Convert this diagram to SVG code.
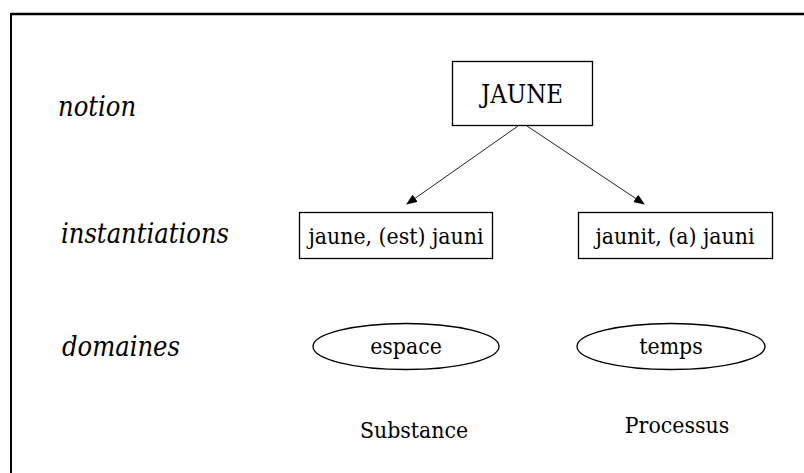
<svg xmlns="http://www.w3.org/2000/svg" width="804" height="473" viewBox="0 0 804 473">
<style>
text{font-family:'DejaVu Serif Condensed','DejaVu Serif',serif;font-stretch:condensed;fill:#000}
.lab{font-size:27px;font-style:italic}
.t{font-size:22.8px;text-anchor:middle}
.big{font-size:25.5px}
.box{fill:#fff;stroke:#000;stroke-width:1.3}
.conn{stroke:#222;stroke-width:1;fill:none}
</style>
<defs>
<marker id="ah" markerWidth="11" markerHeight="9" refX="10" refY="4.5" orient="auto" markerUnits="userSpaceOnUse">
<path d="M0,0 L11,4.5 L0,9 Z" fill="#000"/>
</marker>
</defs>
<rect width="804" height="473" fill="#fff"/>
<g id="frame">
<line x1="11" y1="14" x2="804" y2="14" stroke="#000" stroke-width="2.5"/>
<line x1="11" y1="13" x2="11" y2="473" stroke="#000" stroke-width="2"/>
</g>
<g id="labels">
<text class="lab" x="58" y="116">notion</text>
<text class="lab" x="61" y="243">instantiations</text>
<text class="lab" x="62" y="356">domaines</text>
</g>
<g id="connectors">
<line class="conn" x1="518" y1="126" x2="407" y2="204" marker-end="url(#ah)"/>
<line class="conn" x1="527" y1="126" x2="644" y2="204" marker-end="url(#ah)"/>
</g>
<g id="jaune">
<rect class="box" x="452.5" y="61.5" width="140" height="64"/>
<text class="t big" x="522" y="103">JAUNE</text>
</g>
<g id="inst-left">
<rect class="box" x="299.5" y="212.5" width="193" height="46"/>
<text class="t" x="396" y="244">jaune, (est) jauni</text>
</g>
<g id="inst-right">
<rect class="box" x="578.5" y="212.5" width="194" height="46"/>
<text class="t" x="675" y="244">jaunit, (a) jauni</text>
</g>
<g id="espace">
<ellipse class="box" cx="406" cy="346.5" rx="93" ry="23"/>
<text class="t" x="406" y="354">espace</text>
</g>
<g id="temps">
<ellipse class="box" cx="671" cy="346.5" rx="94" ry="23"/>
<text class="t" x="671" y="354">temps</text>
</g>
<g id="substance">
<text class="t" x="414" y="438">Substance</text>
</g>
<g id="processus">
<text class="t" x="677" y="433">Processus</text>
</g>
</svg>
